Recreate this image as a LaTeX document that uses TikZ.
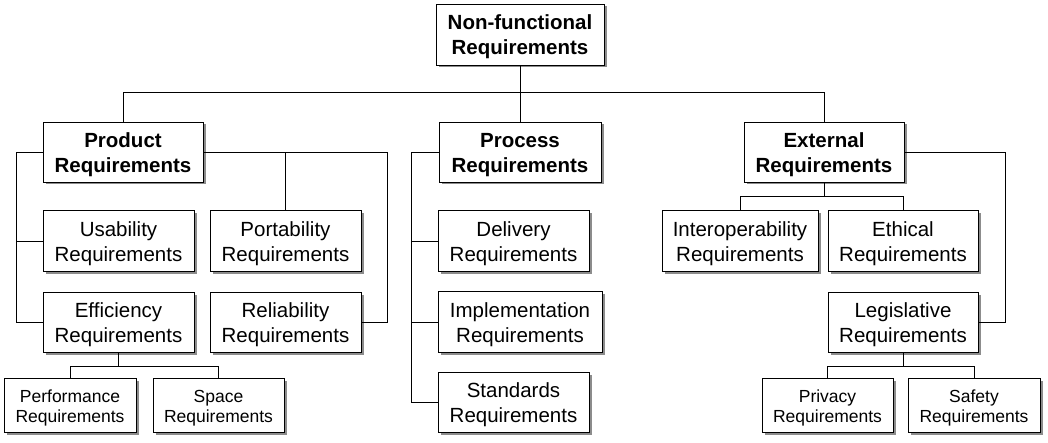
\documentclass[tikz,border=0pt]{standalone}
\usepackage{fontspec}
\setmainfont{Liberation Sans}
\usetikzlibrary{shadows,calc}
\newcommand{\twoline}[3][6pt]{\raisebox{0pt}[\dimexpr\height+#1\relax][\depth]{\begin{tabular}{@{}c@{}}#2\\#3\end{tabular}}}
\begin{document}
\begin{tikzpicture}[x=1pt,y=-1pt,
  box/.style={draw=black,line width=0.9pt,fill=white,inner sep=0pt,
    font=\fontsize{20.5}{25}\selectfont,
    drop shadow={shadow xshift=2.5pt,shadow yshift=-2.5pt,fill=black!45,opacity=1}},
  bbox/.style={box,font=\fontsize{20.5}{25}\selectfont\bfseries},
  sbox/.style={box,font=\fontsize{17.5}{20.5}\selectfont},
  wire/.style={draw=black,line width=0.9pt}]
\useasboundingbox (0,0) rectangle (1048,443);
\fill[white] (0,0) rectangle (1048,443);
% top
\node[bbox,minimum width=168,minimum height=61] (nfr) at (520,34.5) {\twoline{Non-functional}{Requirements}};
% level 1
\node[bbox,minimum width=160,minimum height=60] (prod) at (123,152) {\twoline{Product}{Requirements}};
\node[bbox,minimum width=162,minimum height=60] (proc) at (520,152) {\twoline{Process}{Requirements}};
\node[bbox,minimum width=160,minimum height=60] (ext) at (824,152) {\twoline{External}{Requirements}};
% product children
\node[box,minimum width=151,minimum height=61] (usab) at (118.5,241) {\twoline{Usability}{Requirements}};
\node[box,minimum width=151,minimum height=61] (port) at (285.5,241) {\twoline{Portability}{Requirements}};
\node[box,minimum width=151,minimum height=60] (effi) at (118.5,322) {\twoline{Efficiency}{Requirements}};
\node[box,minimum width=151,minimum height=60] (reli) at (285.5,322) {\twoline{Reliability}{Requirements}};
\node[sbox,minimum width=132,minimum height=54] (perf) at (70,405) {\twoline[7pt]{Performance}{Requirements}};
\node[sbox,minimum width=131,minimum height=54] (space) at (218.5,405) {\twoline[7pt]{Space}{Requirements}};
% process children
\node[box,minimum width=151,minimum height=61] (deli) at (513.5,241) {\twoline{Delivery}{Requirements}};
\node[box,minimum width=164,minimum height=61] (impl) at (520,322) {\twoline{Implementation}{Requirements}};
\node[box,minimum width=151,minimum height=60] (stan) at (513.5,402) {\twoline{Standards}{Requirements}};
% external children
\node[box,minimum width=156,minimum height=61] (inter) at (740,241) {\twoline{Interoperability}{Requirements}};
\node[box,minimum width=150,minimum height=61] (ethi) at (903,241) {\twoline{Ethical}{Requirements}};
\node[box,minimum width=150,minimum height=60] (legi) at (903,322) {\twoline{Legislative}{Requirements}};
\node[sbox,minimum width=131,minimum height=54] (priv) at (827.5,405) {\twoline[7pt]{Privacy}{Requirements}};
\node[sbox,minimum width=132,minimum height=54] (safe) at (974,405) {\twoline[7pt]{Safety}{Requirements}};
% connectors
\coordinate (pR) at (387,322);
\coordinate (eR) at (1005,322);
\draw[wire] (nfr.south) -- (proc.north);
\draw[wire] (prod.north) -- ++(0,-29) -| (ext.north);
\draw[wire] (prod.west) -- ++(-26,0) |- (effi.west);
\draw[wire] (usab.west) -- ++(-26,0);
\draw[wire] (prod.east) -| (pR) -- (reli.east);
\draw[wire] (port.north) -- (port.north |- prod.east);
\draw[wire] (effi.south) -- ++(0,14) coordinate (ej);
\draw[wire] (perf.north) -- (perf.north |- ej) -| (space.north);
\draw[wire] (proc.west) -- ++(-27,0) |- (stan.west);
\draw[wire] (deli.west) -- ++(-26,0);
\draw[wire] (impl.west) -- ++(-26,0);
\draw[wire] (ext.south) -- ++(0,14) coordinate (xj);
\draw[wire] (inter.north) -- (inter.north |- xj) -| (ethi.north);
\draw[wire] (ext.east) -| (eR) -- (legi.east);
\draw[wire] (legi.south) -- ++(0,14) coordinate (lj);
\draw[wire] (priv.north) -- (priv.north |- lj) -| (safe.north);
\end{tikzpicture}
\end{document}
